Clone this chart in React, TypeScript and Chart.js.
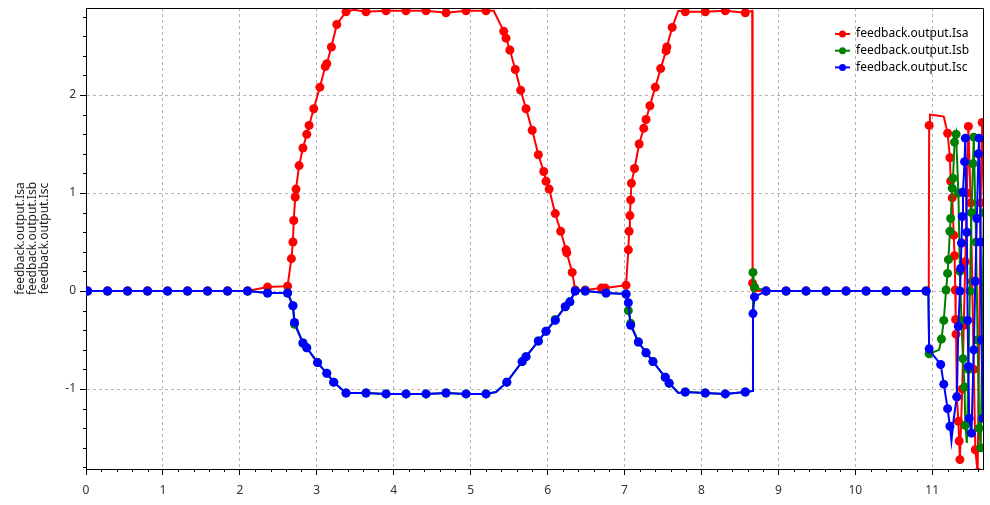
import React, { useEffect, useRef } from 'react';
import { Chart, registerables } from 'chart.js';

Chart.register(...registerables);

const FONT = '"Noto Sans", "Open Sans", sans-serif';

const seriesNames = ['feedback.output.Isa', 'feedback.output.Isb', 'feedback.output.Isc'];
const seriesColors = ['#ff0000', '#008000', '#0000ff'];

const X_MIN = 0;
const X_MAX = 11.66;
const Y_MIN = -1.816;
const Y_MAX = 2.888;

// ---- Isa (red) ----
const isaT = [
  0, 0.02, 0.28, 0.54, 0.80, 1.06, 1.32, 1.58, 1.84, 2.10,
  2.36, 2.62, 2.67, 2.69, 2.70, 2.72, 2.73, 2.77, 2.82, 2.87,
  2.90, 2.96, 3.04, 3.11, 3.13, 3.19, 3.26, 3.38, 3.48, 3.64,
  3.90, 4.16, 4.42, 4.68, 4.94, 5.20, 5.30, 5.43, 5.46, 5.51,
  5.58, 5.65, 5.72, 5.80, 5.88, 5.95, 5.98, 6.02, 6.10, 6.17,
  6.24, 6.25, 6.32, 6.36, 6.49, 6.70, 6.75, 7.02, 7.05, 7.06,
  7.07, 7.08, 7.09, 7.13, 7.19, 7.25, 7.28, 7.33, 7.40, 7.47,
  7.54, 7.55, 7.62, 7.70, 7.79, 8.05, 8.31, 8.57, 8.66, 8.665,
  8.69, 8.72, 8.84, 9.10, 9.36, 9.62, 9.88, 10.14, 10.40, 10.66,
  10.92, 10.955, 10.96, 10.97, 11.06, 11.15, 11.20, 11.23, 11.24, 11.26,
  11.28, 11.29, 11.30, 11.305, 11.31, 11.32, 11.34, 11.35, 11.36, 11.39,
  11.41, 11.43, 11.45, 11.47, 11.50, 11.52, 11.54, 11.56, 11.59, 11.61,
  11.63, 11.65, 11.68,
];
const isaV = [
  0, 0, 0, 0, 0, 0, 0, 0, 0, 0,
  0.04, 0.05, 0.33, 0.50, 0.72, 0.96, 1.04, 1.28, 1.46, 1.60,
  1.69, 1.86, 2.08, 2.29, 2.32, 2.49, 2.72, 2.85, 2.87, 2.85,
  2.86, 2.86, 2.86, 2.84, 2.86, 2.86, 2.86, 2.65, 2.58, 2.46,
  2.26, 2.05, 1.86, 1.64, 1.39, 1.22, 1.12, 1.04, 0.79, 0.61,
  0.42, 0.39, 0.19, 0.01, 0.01, 0.03, 0.03, 0.06, 0.42, 0.61,
  0.77, 0.93, 1.10, 1.25, 1.50, 1.66, 1.75, 1.89, 2.08, 2.27,
  2.45, 2.49, 2.69, 2.86, 2.85, 2.85, 2.86, 2.84, 2.86, 0.08,
  0.03, 0, 0, 0, 0, 0, 0, 0, 0, 0,
  0, 0, 1.69, 1.80, 1.79, 1.78, 1.61, 1.36, 1.12, 0.95,
  0.57, 0.36, 0.01, -0.29, -0.44, -1.08, -1.33, -1.53, -1.72, -1.00,
  -0.35, 0.30, 1.00, 1.68, 0.90, 0.10, -0.80, -1.62, -1.85, -0.50,
  0.90, 1.72, 0.50,
];
const isaLineOnly = [0, 3.48, 5.30, 7.70, 8.66, 8.72, 10.955, 10.97, 11.06, 11.15];

// ---- Isb (green) ----
const isbT = [
  0, 0.02, 0.28, 0.54, 0.80, 1.06, 1.32, 1.58, 1.84, 2.10,
  2.36, 2.62, 2.69, 2.71, 2.82, 2.87, 3.01, 3.13, 3.22, 3.38,
  3.64, 3.90, 4.16, 4.42, 4.68, 4.94, 5.20, 5.33, 5.47, 5.67,
  5.72, 5.88, 5.98, 6.10, 6.23, 6.29, 6.36, 6.49, 6.76, 7.02,
  7.05, 7.08, 7.18, 7.28, 7.37, 7.53, 7.58, 7.70, 7.79, 8.05,
  8.31, 8.57, 8.66, 8.67, 8.69, 8.84, 9.10, 9.36, 9.62, 9.88,
  10.14, 10.40, 10.66, 10.92, 10.95, 10.96, 11.09, 11.12, 11.15, 11.18,
  11.20, 11.21, 11.23, 11.24, 11.26, 11.27, 11.29, 11.31, 11.34, 11.36,
  11.38, 11.40, 11.42, 11.43, 11.45, 11.47, 11.49, 11.51, 11.53, 11.54,
  11.57, 11.59, 11.61, 11.63, 11.65, 11.67,
];
const isbV = [
  0, 0, 0, 0, 0, 0, 0, 0, 0, 0,
  -0.02, -0.02, -0.15, -0.34, -0.53, -0.58, -0.73, -0.84, -0.93, -1.04,
  -1.04, -1.05, -1.05, -1.05, -1.04, -1.05, -1.05, -1.03, -0.93, -0.72,
  -0.67, -0.51, -0.41, -0.29, -0.16, -0.11, 0, 0, -0.02, -0.03,
  -0.20, -0.33, -0.52, -0.63, -0.72, -0.88, -0.94, -1.04, -1.03, -1.04,
  -1.05, -1.03, -1.02, 0.19, 0.04, 0, 0, 0, 0, 0,
  0, 0, 0, 0, 0, -0.64, -0.60, -0.49, -0.30, 0.01,
  0.18, 0.32, 0.61, 0.74, 1.05, 1.15, 1.52, 1.60, 1.00, 0.20,
  -0.30, -0.69, -0.98, -1.37, -1.55, -0.80, 0.00, 0.80, 1.30, 1.57,
  0.50, -0.50, -1.40, -1.60, -0.50, 0.80,
];
const isbLineOnly = [0, 5.33, 7.70, 8.66, 10.95, 11.09, 11.45];

// ---- Isc (blue) ----
const iscT = [
  0, 0.02, 0.28, 0.54, 0.80, 1.06, 1.32, 1.58, 1.84, 2.10,
  2.36, 2.62, 2.69, 2.71, 2.82, 2.87, 3.01, 3.13, 3.22, 3.38,
  3.64, 3.90, 4.16, 4.42, 4.68, 4.94, 5.20, 5.33, 5.47, 5.67,
  5.72, 5.88, 5.98, 6.10, 6.23, 6.29, 6.36, 6.49, 6.76, 7.02,
  7.05, 7.08, 7.18, 7.28, 7.37, 7.53, 7.58, 7.70, 7.79, 8.05,
  8.31, 8.57, 8.66, 8.67, 8.69, 8.84, 9.10, 9.36, 9.62, 9.88,
  10.14, 10.40, 10.66, 10.92, 10.95, 10.96, 11.00, 11.11, 11.15, 11.20,
  11.23, 11.25, 11.28, 11.32, 11.34, 11.36, 11.37, 11.38, 11.39, 11.40,
  11.42, 11.43, 11.45, 11.46, 11.47, 11.48, 11.51, 11.54, 11.56, 11.58,
  11.60, 11.61, 11.63, 11.64, 11.66,
];
const iscV = [
  0, 0, 0, 0, 0, 0, 0, 0, 0, 0,
  -0.02, -0.02, -0.15, -0.32, -0.53, -0.58, -0.73, -0.84, -0.93, -1.04,
  -1.04, -1.05, -1.05, -1.05, -1.04, -1.05, -1.05, -1.03, -0.93, -0.72,
  -0.67, -0.51, -0.41, -0.30, -0.16, -0.11, 0, 0, -0.02, -0.03,
  -0.12, -0.35, -0.52, -0.63, -0.72, -0.88, -0.94, -1.04, -1.03, -1.04,
  -1.05, -1.03, -1.02, -0.23, -0.06, 0, 0, 0, 0, 0,
  0, 0, 0, 0, 0, -0.59, -0.64, -0.75, -0.95, -1.20,
  -1.38, -1.53, -1.30, -1.08, -0.36, 0.00, 0.23, 0.49, 0.76, 1.01,
  1.32, 1.56, 0.60, -0.30, -0.77, -1.30, -1.45, -0.60, 0.10, 0.74,
  1.40, 1.56, 0.50, -0.50, -1.30,
];
const iscLineOnly = [0, 5.33, 7.70, 8.66, 10.95, 11.00, 11.25, 11.28];

const seriesT = [isaT, isbT, iscT];
const seriesV = [isaV, isbV, iscV];
const seriesLineOnly = [isaLineOnly, isbLineOnly, iscLineOnly];
const seriesOrder = [3, 2, 1];

const framePlugin = {
  id: 'frameAndMinor',
  afterDraw(chart: any) {
    const { ctx, chartArea: a, scales } = chart;
    const xs = scales.x;
    const ys = scales.y;
    ctx.save();
    ctx.strokeStyle = '#000';
    ctx.lineWidth = 1;
    ctx.setLineDash([]);
    ctx.beginPath();
    for (let k = 1; k * 0.2 <= X_MAX + 1e-9; k++) {
      if (k % 5 === 0) continue;
      const px = Math.round(xs.getPixelForValue(k * 0.2)) + 0.5;
      ctx.moveTo(px, a.bottom);
      ctx.lineTo(px, a.bottom + 3);
    }
    for (let k = Math.ceil(Y_MIN / 0.2); k * 0.2 <= Y_MAX + 1e-9; k++) {
      if (k % 5 === 0) continue;
      const py = Math.round(ys.getPixelForValue(k * 0.2)) + 0.5;
      ctx.moveTo(a.left - 3, py);
      ctx.lineTo(a.left, py);
    }
    ctx.stroke();
    ctx.beginPath();
    ctx.moveTo(a.left, Math.round(a.top) + 0.5);
    ctx.lineTo(Math.round(a.right) + 0.5, Math.round(a.top) + 0.5);
    ctx.lineTo(Math.round(a.right) + 0.5, a.bottom);
    ctx.stroke();
    ctx.restore();
  },
};

const legendPlugin = {
  id: 'customLegend',
  afterDraw(chart: any) {
    const { ctx, chartArea: a } = chart;
    ctx.save();
    ctx.font = `12px ${FONT}`;
    ctx.textBaseline = 'middle';
    ctx.textAlign = 'left';
    seriesNames.forEach((name, i) => {
      const y = a.top + 26 + i * 16.7;
      const x0 = a.right - 148;
      ctx.strokeStyle = seriesColors[i];
      ctx.lineWidth = 2;
      ctx.beginPath();
      ctx.moveTo(x0, y);
      ctx.lineTo(x0 + 15, y);
      ctx.stroke();
      ctx.fillStyle = seriesColors[i];
      ctx.beginPath();
      ctx.arc(x0 + 7.5, y, 3.5, 0, Math.PI * 2);
      ctx.fill();
      ctx.fillStyle = '#000';
      ctx.fillText(name, a.right - 127, y);
    });
    ctx.restore();
  },
};

export default function App() {
  const canvasRef = useRef<HTMLCanvasElement | null>(null);

  useEffect(() => {
    const canvas = canvasRef.current;
    if (!canvas) return;
    const datasets = seriesNames.map((name, i) => {
      const lineOnly = seriesLineOnly[i];
      return {
        label: name,
        data: seriesT[i].map((t, j) => ({ x: t, y: seriesV[i][j] })),
        borderColor: seriesColors[i],
        backgroundColor: seriesColors[i],
        pointBackgroundColor: seriesColors[i],
        pointBorderWidth: 0,
        pointRadius: (c: any) => (c.raw && lineOnly.includes(c.raw.x) ? 0 : 4.5),
        borderWidth: 2,
        tension: 0,
        fill: false,
        order: seriesOrder[i],
      };
    });

    const chart = new Chart(canvas, {
      type: 'line',
      data: { datasets },
      plugins: [framePlugin, legendPlugin],
      options: {
        animation: false,
        responsive: false,
        events: [],
        layout: { padding: { top: 8, right: 7, left: 0, bottom: 0 } },
        plugins: {
          legend: { display: false },
          tooltip: { enabled: false },
          title: { display: false },
        },
        scales: {
          x: {
            type: 'linear',
            min: X_MIN,
            max: X_MAX,
            ticks: {
              stepSize: 1,
              includeBounds: false,
              autoSkip: false,
              maxRotation: 0,
              padding: 8,
              color: '#333',
              font: { family: FONT, size: 12 },
            },
            grid: {
              color: '#b4b4b4',
              lineWidth: 1,
              drawTicks: true,
              tickLength: 6,
              tickColor: '#000',
              tickWidth: 1,
            },
            border: { display: true, color: '#000', width: 1, dash: [3, 3] },
            afterFit: (s: any) => {
              s.height = 36;
              s.paddingLeft = 0;
              s.paddingRight = 0;
            },
          },
          y: {
            type: 'linear',
            min: Y_MIN,
            max: Y_MAX,
            ticks: {
              stepSize: 1,
              includeBounds: false,
              padding: 4,
              color: '#333',
              font: { family: FONT, size: 12 },
            },
            grid: {
              color: '#b4b4b4',
              lineWidth: 1,
              drawTicks: true,
              tickLength: 6,
              tickColor: '#000',
              tickWidth: 1,
            },
            border: { display: true, color: '#000', width: 1, dash: [3, 3] },
            title: {
              display: true,
              text: seriesNames,
              color: '#222',
              font: { family: FONT, size: 12, lineHeight: 1.0 },
              padding: { top: 15, bottom: 0 },
            },
            afterFit: (s: any) => {
              s.width = 86;
              s.paddingTop = 0;
              s.paddingBottom = 0;
            },
          },
        },
      },
    } as any);
    return () => chart.destroy();
  }, []);

  return (
    <div style={{ position: 'fixed', left: 0, top: 0, width: 990, height: 505, background: '#fff' }}>
      <canvas ref={canvasRef} width={990} height={505} style={{ display: 'block' }} />
    </div>
  );
}
